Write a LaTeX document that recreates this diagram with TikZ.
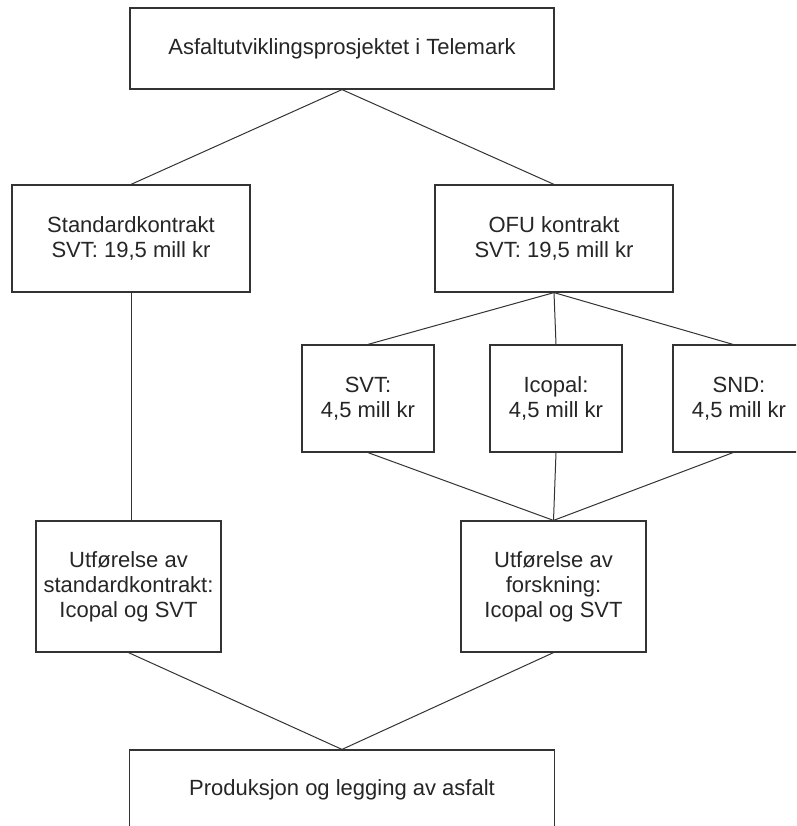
\documentclass[tikz,border=0pt]{standalone}
\usepackage{fontspec}
\setmainfont{Liberation Sans}
\begin{document}
\begin{tikzpicture}[x=1pt,y=-1pt,
  box/.style={draw=black!80, line width=1.2pt, rectangle, align=center, inner sep=0pt,
    font=\fontsize{22}{25}\selectfont, text=black!85},
  conn/.style={draw=black!80, line width=1pt}]
\useasboundingbox (0,0) rectangle (796,826);
\clip (0,0) rectangle (796,826);
\fill[white] (0,0) rectangle (796,826);
\node[box, minimum width=424pt, minimum height=81pt] (top) at (342,48.5) {Asfaltutviklingsprosjektet i Telemark};
\node[box, minimum width=238pt, minimum height=107pt] (std) at (131,238.5) {Standardkontrakt\\SVT: 19,5 mill kr};
\node[box, minimum width=238pt, minimum height=107pt] (ofu) at (554,238.5) {OFU kontrakt\\SVT: 19,5 mill kr};
\node[box, minimum width=132pt, minimum height=107pt] (svt) at (368,398.5) {SVT:\\4,5 mill kr};
\node[box, minimum width=132pt, minimum height=107pt] (ico) at (556,398.5) {Icopal:\\4,5 mill kr};
\node[box, minimum width=132pt, minimum height=107pt] (snd) at (739,398.5) {SND:\\4,5 mill kr};
\node[box, minimum width=185pt, minimum height=131pt] (ustd) at (128.5,586.5) {Utførelse av\\standardkontrakt:\\Icopal og SVT};
\node[box, minimum width=185pt, minimum height=131pt] (ufor) at (553.5,586.5) {Utførelse av\\forskning:\\Icopal og SVT};
\node[box, minimum width=425pt, minimum height=80pt] (bot) at (342,790) {Produksjon og legging av asfalt};
\draw[conn] (top.south) -- (std.north);
\draw[conn] (top.south) -- (ofu.north);
\draw[conn] (ofu.south) -- (svt.north);
\draw[conn] (ofu.south) -- (ico.north);
\draw[conn] (ofu.south) -- ([xshift=-6pt]snd.north);
\draw[conn] (svt.south) -- (ufor.north);
\draw[conn] (ico.south) -- (ufor.north);
\draw[conn] ([xshift=-6pt]snd.south) -- (ufor.north);
\draw[conn] (std.south) -- (std.south |- ustd.north);
\draw[conn] (ustd.south) -- (bot.north);
\draw[conn] (ufor.south) -- (bot.north);
\end{tikzpicture}
\end{document}
